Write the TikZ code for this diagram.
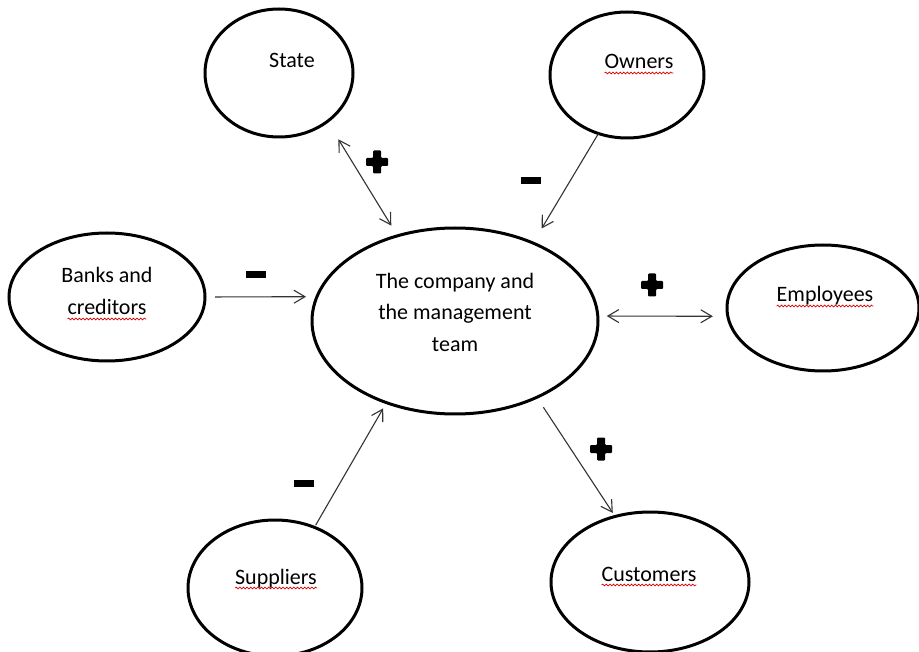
\documentclass[tikz,border=0pt]{standalone}
\usepackage{fontspec}
\setmainfont{Carlito}
\usetikzlibrary{shapes.geometric,arrows.meta,decorations.pathmorphing}
\begin{document}
\begin{tikzpicture}[x=1pt,y=-1pt,
  >={Straight Barb[length=11pt,width=13pt,line width=1.1pt]},
  oval/.style={ellipse, draw=black, line width=3pt, inner sep=0pt, outer sep=0pt},
  lbl/.style={inner sep=0pt, outer sep=0pt, font=\fontsize{22}{31.5}\selectfont, text=black},
  conn/.style={draw=black!80, line width=1.1pt},
  spell/.style={draw=red!85!black, line width=0.7pt, decorate,
    decoration={snake, amplitude=0.9pt, segment length=3.6pt}},
  pics/plussign/.style={code={
    \fill[black, rounded corners=1pt] (-4,-11.5) -- (4,-11.5) -- (4,-4) -- (11,-4) -- (11,4) -- (4,4)
      -- (4,11.5) -- (-4,11.5) -- (-4,4) -- (-11,4) -- (-11,-4) -- (-4,-4) -- cycle;}},
  pics/minussign/.style={code={\fill[black] (-10,-3.5) rectangle (10,3.5);}}
]
\useasboundingbox (0,0) rectangle (919,652);
\clip (0,0) rectangle (919,652);
\fill[white] (0,0) rectangle (919,652);

% ellipses
\node[oval, minimum width=148pt, minimum height=128pt] (state) at (279,73) {};
\node[oval, minimum width=154pt, minimum height=126pt] (owners) at (627,75) {};
\node[oval, minimum width=196pt, minimum height=128pt] (banks) at (107,297) {};
\node[oval, minimum width=286pt, minimum height=186pt] (company) at (455,321) {};
\node[oval, minimum width=192pt, minimum height=126pt] (employees) at (823,308) {};
\node[oval, minimum width=174pt, minimum height=136pt] (suppliers) at (275,588) {};
\node[oval, minimum width=198pt, minimum height=140pt] (customers) at (650,582) {};

% texts
\node[lbl, anchor=base] (stateT) at (292,68) {State};
\node[lbl, anchor=base] (ownersT) at (639,69) {Owners};
\node[lbl, anchor=base] (banksT1) at (107,283) {Banks and};
\node[lbl, anchor=base] (banksT2) at (107,315) {creditors};
\node[lbl, align=center] (companyT) at (455,312) {The company and\\the management\\team};
\node[lbl, anchor=base] (employeesT) at (825,302) {Employees};
\node[lbl, anchor=base] (suppliersT) at (276,584) {Suppliers};
\node[lbl, anchor=base] (customersT) at (649,581) {Customers};

% spell-check underlines
\foreach \t in {ownersT, banksT2, employeesT, suppliersT, customersT}
  \draw[spell] ([yshift=-4pt]\t.base west) -- ([yshift=-4pt]\t.base east);

% connectors
\draw[conn, <->, shorten <=21pt, shorten >=12pt] (state.-45.5) -- (company.124.7);
\draw[conn, ->, shorten <=0pt, shorten >=17pt] (owners.-116.6) -- (company.45.4);
\draw[conn, ->, shorten <=10pt, shorten >=11pt] (banks.0) -- (company.170.1);
\draw[conn, <->, shorten <=9pt, shorten >=15pt] (company.2) -- (employees.-175.2);
\draw[conn, ->, shorten <=2.5pt, shorten >=6.6pt] (suppliers.57.5) -- (company.-130.6);
\draw[conn, ->, shorten <=12pt, shorten >=4.3pt] (company.-43.8) -- (customers.118.6);

% signs
\pic at (377,162) {plussign};
\pic at (652,285) {plussign};
\pic at (601,449) {plussign};
\pic at (531,181) {minussign};
\pic at (256,275) {minussign};
\pic at (304,483) {minussign};
\end{tikzpicture}
\end{document}
